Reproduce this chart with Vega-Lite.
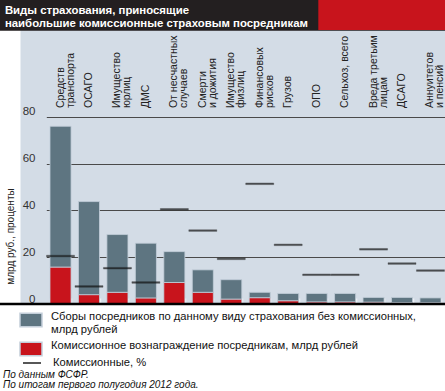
{
  "$schema": "https://vega.github.io/schema/vega-lite/v6.json",
  "width": 445,
  "height": 304,
  "autosize": "none",
  "padding": {"left": 0, "top": 0, "right": 0, "bottom": 87},
  "background": "white",
  "config": {
    "view": {"stroke": null, "fill": "#d3dce6"},
    "font": "Liberation Sans",
    "text": {"font": "Liberation Sans"}
  },
  "title": {
    "text": ["По данным ФСФР.", "По итогам первого полугодия 2012 года."],
    "orient": "bottom",
    "anchor": "start",
    "frame": "group",
    "font": "Liberation Sans",
    "fontSize": 10,
    "fontStyle": "italic",
    "fontWeight": "normal",
    "color": "#111",
    "lineHeight": 9.5,
    "offset": 1,
    "dx": 3
  },
  "datasets": {
    "bars": [
      {"cat": "Средств транспорта", "series": "Комиссионное вознаграждение посредникам, млрд рублей", "value": 15.8},
      {"cat": "Средств транспорта", "series": "Сборы посредников по данному виду страхования без комиссионных, млрд рублей", "value": 60.2},
      {"cat": "ОСАГО", "series": "Комиссионное вознаграждение посредникам, млрд рублей", "value": 4.0},
      {"cat": "ОСАГО", "series": "Сборы посредников по данному виду страхования без комиссионных, млрд рублей", "value": 39.8},
      {"cat": "Имущество юрлиц", "series": "Комиссионное вознаграждение посредникам, млрд рублей", "value": 5.0},
      {"cat": "Имущество юрлиц", "series": "Сборы посредников по данному виду страхования без комиссионных, млрд рублей", "value": 24.7},
      {"cat": "ДМС", "series": "Комиссионное вознаграждение посредникам, млрд рублей", "value": 2.6},
      {"cat": "ДМС", "series": "Сборы посредников по данному виду страхования без комиссионных, млрд рублей", "value": 23.4},
      {"cat": "От несчастных случаев", "series": "Комиссионное вознаграждение посредникам, млрд рублей", "value": 9.2},
      {"cat": "От несчастных случаев", "series": "Сборы посредников по данному виду страхования без комиссионных, млрд рублей", "value": 13.2},
      {"cat": "Смерти и дожития", "series": "Комиссионное вознаграждение посредникам, млрд рублей", "value": 5.0},
      {"cat": "Смерти и дожития", "series": "Сборы посредников по данному виду страхования без комиссионных, млрд рублей", "value": 9.6},
      {"cat": "Имущество физлиц", "series": "Комиссионное вознаграждение посредникам, млрд рублей", "value": 2.1},
      {"cat": "Имущество физлиц", "series": "Сборы посредников по данному виду страхования без комиссионных, млрд рублей", "value": 8.3},
      {"cat": "Финансовых рисков", "series": "Комиссионное вознаграждение посредникам, млрд рублей", "value": 2.7},
      {"cat": "Финансовых рисков", "series": "Сборы посредников по данному виду страхования без комиссионных, млрд рублей", "value": 2.3},
      {"cat": "Грузов", "series": "Комиссионное вознаграждение посредникам, млрд рублей", "value": 1.4},
      {"cat": "Грузов", "series": "Сборы посредников по данному виду страхования без комиссионных, млрд рублей", "value": 3.1},
      {"cat": "ОПО", "series": "Комиссионное вознаграждение посредникам, млрд рублей", "value": 0.9},
      {"cat": "ОПО", "series": "Сборы посредников по данному виду страхования без комиссионных, млрд рублей", "value": 3.6},
      {"cat": "Сельхоз, всего", "series": "Комиссионное вознаграждение посредникам, млрд рублей", "value": 0.9},
      {"cat": "Сельхоз, всего", "series": "Сборы посредников по данному виду страхования без комиссионных, млрд рублей", "value": 3.6},
      {"cat": "Вреда третьим лицам", "series": "Комиссионное вознаграждение посредникам, млрд рублей", "value": 0.8},
      {"cat": "Вреда третьим лицам", "series": "Сборы посредников по данному виду страхования без комиссионных, млрд рублей", "value": 2.0},
      {"cat": "ДСАГО", "series": "Комиссионное вознаграждение посредникам, млрд рублей", "value": 0.6},
      {"cat": "ДСАГО", "series": "Сборы посредников по данному виду страхования без комиссионных, млрд рублей", "value": 2.2},
      {"cat": "Аннуитетов и пенсий", "series": "Комиссионное вознаграждение посредникам, млрд рублей", "value": 0.6},
      {"cat": "Аннуитетов и пенсий", "series": "Сборы посредников по данному виду страхования без комиссионных, млрд рублей", "value": 2.0}
    ],
    "cats": [
      {"cat": "Средств транспорта", "label": "Средств|транспорта", "pct": 20.5},
      {"cat": "ОСАГО", "label": "ОСАГО", "pct": 7.5},
      {"cat": "Имущество юрлиц", "label": "Имущество|юрлиц", "pct": 15.3},
      {"cat": "ДМС", "label": "ДМС", "pct": 9.2},
      {"cat": "От несчастных случаев", "label": "От несчастных|случаев", "pct": 40.5},
      {"cat": "Смерти и дожития", "label": "Смерти|и дожития", "pct": 31.4},
      {"cat": "Имущество физлиц", "label": "Имущество|физлиц", "pct": 19.3},
      {"cat": "Финансовых рисков", "label": "Финансовых|рисков", "pct": 51.4},
      {"cat": "Грузов", "label": "Грузов", "pct": 25.3},
      {"cat": "ОПО", "label": "ОПО", "pct": 12.5},
      {"cat": "Сельхоз, всего", "label": "Сельхоз, всего", "pct": 12.5},
      {"cat": "Вреда третьим лицам", "label": "Вреда третьим|лицам", "pct": 23.4},
      {"cat": "ДСАГО", "label": "ДСАГО", "pct": 17.3},
      {"cat": "Аннуитетов и пенсий", "label": "Аннуитетов|и пенсий", "pct": 14.3}
    ],
    "header": [
      {"t": "Виды страхования, приносящие\nнаибольшие комиссионные страховым посредникам"}
    ]
  },
  "resolve": {"scale": {"x": "independent"}, "axis": {"x": "independent"}},
  "layer": [
    {
      "layer": [
        {
          "data": {"name": "bars"},
          "mark": {"type": "bar", "stroke": "#c3ced9", "strokeWidth": 0.8},
          "encoding": {
            "x": {
              "field": "cat", "type": "nominal", "sort": null,
              "scale": {"range": [46.3, 444.7], "paddingInner": 0.26, "paddingOuter": 0.13},
              "axis": {"orient": "bottom", "title": null, "labels": false, "domain": false, "ticks": true, "tickBand": "extent", "tickSize": -6, "tickColor": "#eef2f6", "tickWidth": 1.5, "grid": false}
            },
            "y": {
              "field": "value", "type": "quantitative", "stack": "zero",
              "scale": {"domain": [0, 130], "nice": false, "zero": true},
              "axis": {
                "values": [0, 20, 40, 60, 80],
                "grid": true, "gridColor": "#4a4a4a", "gridWidth": 1,
                "ticks": false, "tickSize": 0,
                "domain": true, "domainColor": "white", "domainWidth": 40,
                "labelAlign": "right", "labelPadding": -35, "labelBaseline": "alphabetic", "labelOffset": -2,
                "labelFont": "Liberation Sans", "labelFontSize": 11.5, "labelColor": "#333",
                "title": "млрд руб., проценты",
                "titleX": 10, "titleY": 236, "titleAngle": 270, "titleAlign": "center", "titleBaseline": "middle",
                "titleFont": "Liberation Sans", "titleFontSize": 10, "titleFontWeight": "normal", "titleColor": "#222"
              }
            },
            "color": {
              "field": "series", "type": "nominal",
              "scale": {
                "domain": ["Сборы посредников по данному виду страхования без комиссионных, млрд рублей", "Комиссионное вознаграждение посредникам, млрд рублей"],
                "range": ["#5e7581", "#c8141c"]
              },
              "legend": {
                "orient": "none", "legendX": 23, "legendY": 312, "title": null,
                "direction": "vertical",
                "symbolType": "M-1.57,-0.97H1.57V0.97H-1.57Z", "symbolSize": 196, "symbolOpacity": 1,
                "labelFont": "Liberation Sans", "labelFontSize": 11.2, "labelColor": "#111", "labelOffset": 12, "labelLimit": 500,
                "labelBaseline": "alphabetic", "rowPadding": 3,
                "labelExpr": "datum.label === 'Сборы посредников по данному виду страхования без комиссионных, млрд рублей' ? ['Сборы посредников по данному виду страхования без комиссионных,', 'млрд рублей'] : datum.label",
                "encode": {
                  "labels": {"dy": {"value": 4}, "lineHeight": {"value": 10.5}}
                }
              }
            },
            "order": {"field": "series", "sort": "ascending"}
          }
        },
        {
          "data": {"name": "cats"},
          "mark": {"type": "tick", "orient": "horizontal", "size": 28, "thickness": 1.6, "color": "#111111", "strokeWidth": 0.4},
          "encoding": {
            "x": {"field": "cat", "type": "nominal", "sort": null},
            "y": {"field": "pct", "type": "quantitative"},
            "stroke": {
              "datum": "Комиссионные, %", "type": "nominal",
              "scale": {"domain": ["Комиссионные, %"], "range": ["#111111"]},
              "legend": {
                "orient": "none", "legendX": 22, "legendY": 353, "title": null,
                "symbolType": "M-1,0H1", "symbolSize": 324, "symbolStrokeWidth": 2, "symbolStrokeColor": "#111111", "symbolFillColor": "transparent",
                "labelFont": "Liberation Sans", "labelFontSize": 11.2, "labelColor": "#111", "labelOffset": 11, "labelLimit": 500,
                "labelBaseline": "middle"
              }
            }
          }
        },
        {
          "data": {"name": "cats"},
          "mark": {"type": "text", "angle": 270, "align": "left", "baseline": "middle", "lineBreak": "|", "fontSize": 10.5, "lineHeight": 10, "color": "#222", "font": "Liberation Sans"},
          "encoding": {
            "x": {"field": "cat", "type": "nominal", "sort": null},
            "y": {"datum": 83.8},
            "text": {"field": "label"}
          }
        },
        {
          "data": {"values": [{}]},
          "mark": {"type": "rule", "color": "#000", "strokeWidth": 2.5},
          "encoding": {"y": {"datum": 0}}
        }
      ]
    },
    {
      "data": {"name": "header"},
      "layer": [
        {
          "mark": {"type": "rect", "color": "#231f20"},
          "encoding": {
            "x": {"datum": 0, "type": "quantitative", "scale": {"domain": [0, 1], "nice": false}, "axis": null},
            "x2": {"datum": 1},
            "y": {"datum": 116.8},
            "y2": {"datum": 130}
          }
        },
        {
          "mark": {"type": "rect", "color": "#c8141c"},
          "encoding": {
            "x": {"datum": 0.7153, "type": "quantitative"},
            "x2": {"datum": 1},
            "y": {"datum": 117.2},
            "y2": {"datum": 130}
          }
        },
        {
          "mark": {"type": "text", "align": "left", "baseline": "alphabetic", "lineBreak": "\n", "fontSize": 11.4, "fontWeight": "bold", "lineHeight": 12.5, "color": "white", "font": "Liberation Sans"},
          "encoding": {
            "x": {"datum": 0.011, "type": "quantitative"},
            "y": {"datum": 124.0},
            "text": {"field": "t"}
          }
        }
      ]
    }
  ]
}
